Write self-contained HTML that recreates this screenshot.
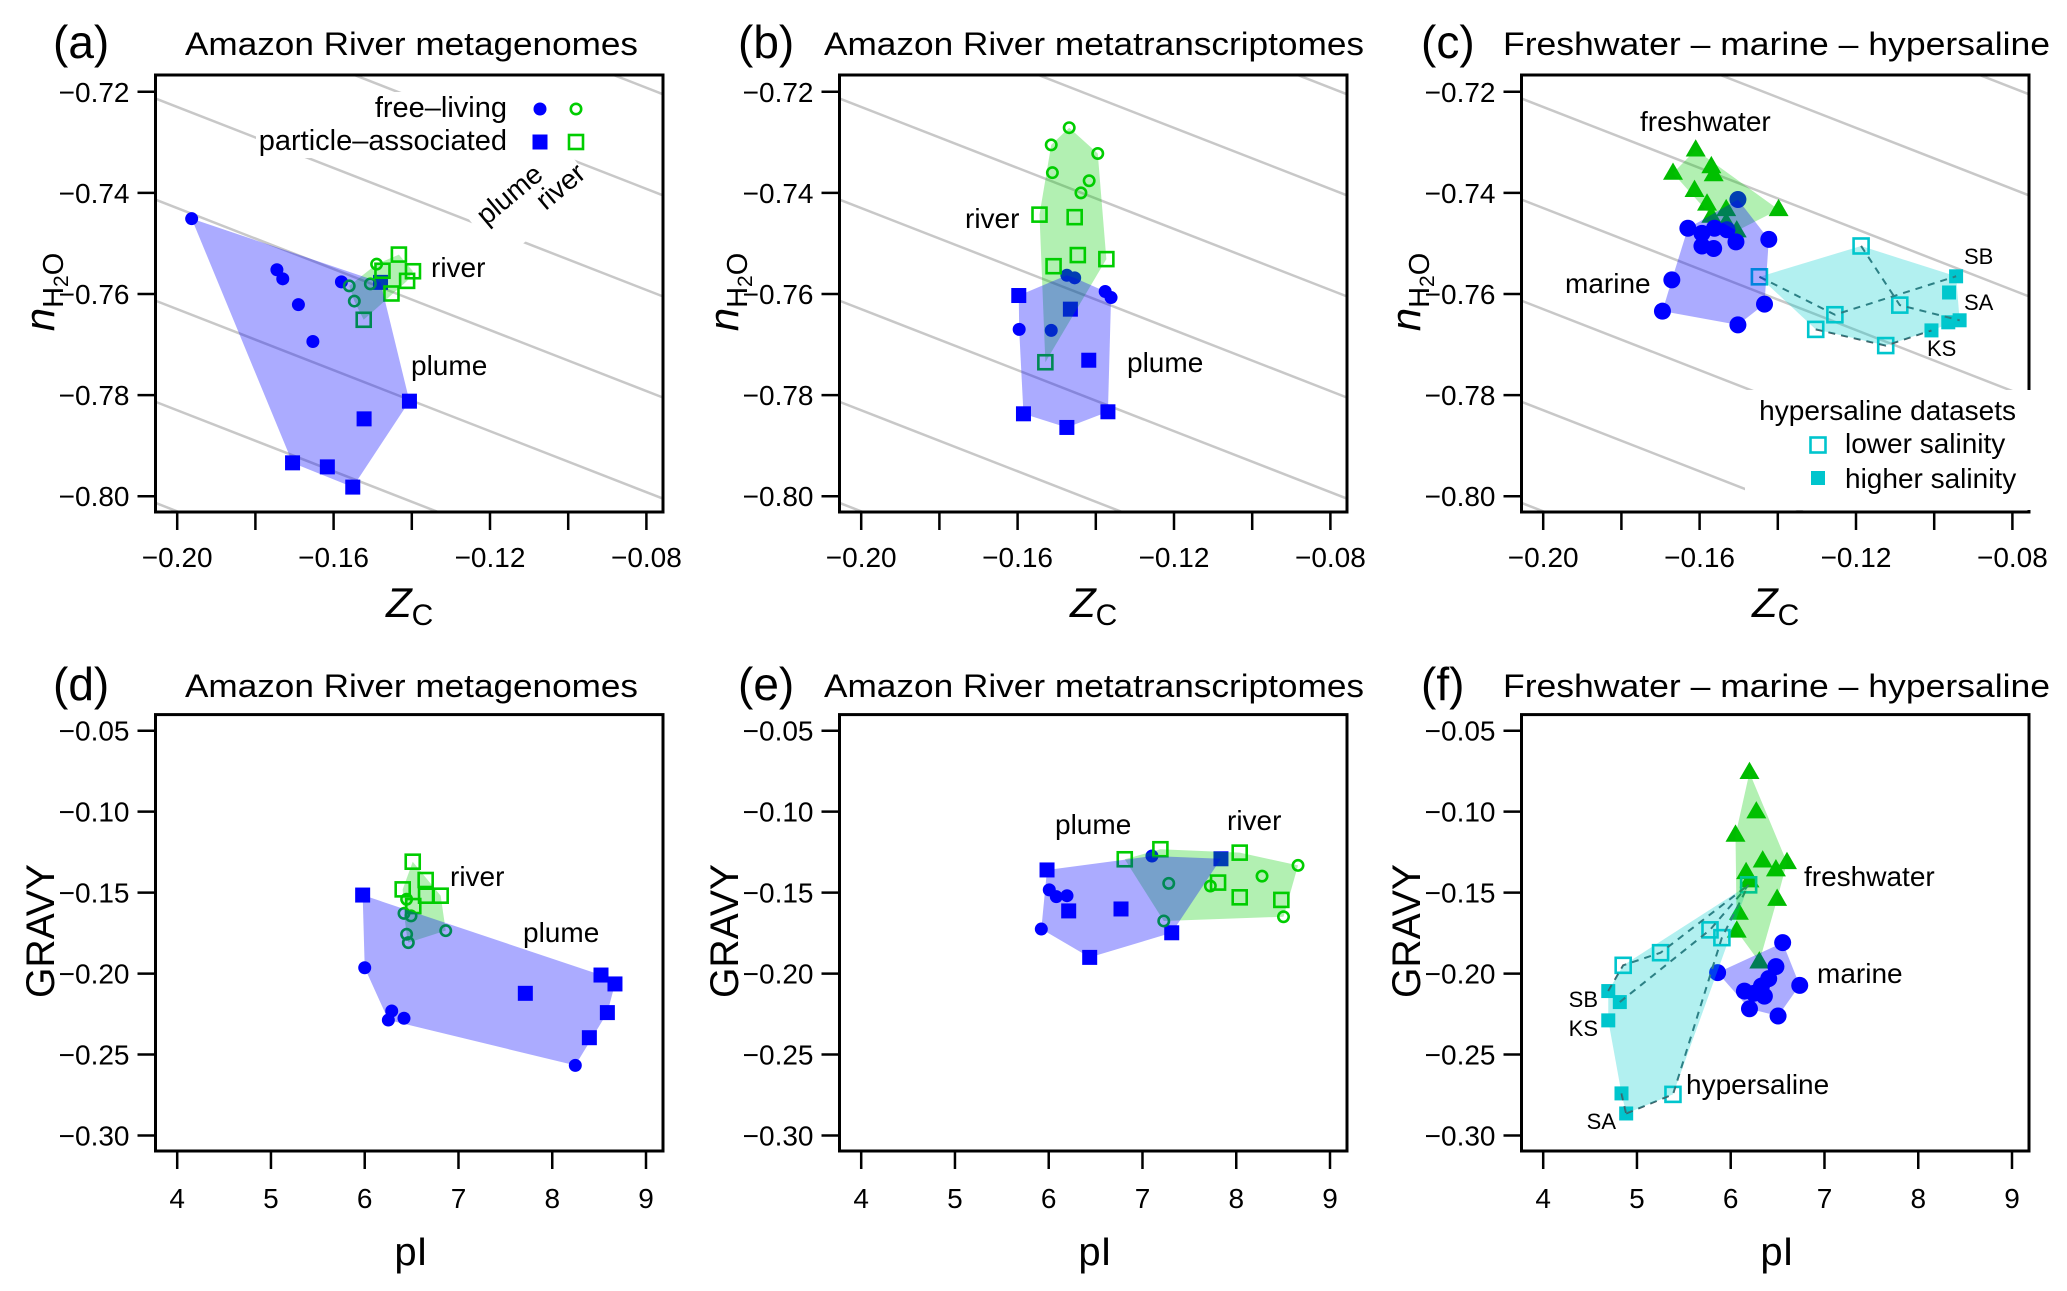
<!DOCTYPE html>
<html><head><meta charset="utf-8"><title>nH2O / GRAVY panels</title>
<style>
html,body{margin:0;padding:0;background:#fff;}
svg{display:block;font-family:"Liberation Sans",Arial,sans-serif;}
</style></head>
<body>
<svg id="fig" xmlns="http://www.w3.org/2000/svg" width="2067" height="1291" viewBox="0 0 2067 1291"></svg>
<script>
// ---------- Panel (a): Amazon River metagenomes, Zc vs nH2O ----------
const aPlumeFLx = [-0.1963,-0.1745,-0.1730,-0.1690,-0.1653,-0.1580];
const aPlumeFLy = [-0.7451,-0.7552,-0.7570,-0.7621,-0.7694,-0.7576];
const aPlumePAx = [-0.1480,-0.1406,-0.1522,-0.1705,-0.1616,-0.1551];
const aPlumePAy = [-0.7577,-0.7812,-0.7847,-0.7934,-0.7942,-0.7982];
const aRiverFLx = [-0.1560,-0.1547,-0.1490,-0.1506];
const aRiverFLy = [-0.7584,-0.7614,-0.7541,-0.7580];
const aRiverPAx = [-0.1433,-0.1475,-0.1397,-0.1412,-0.1452,-0.1523];
const aRiverPAy = [-0.7522,-0.7554,-0.7555,-0.7574,-0.7599,-0.7651];
// ---------- Panel (b): metatranscriptomes ----------
const bPlumeFLx = [-0.1474,-0.1454,-0.1376,-0.1361,-0.1596,-0.1514];
const bPlumeFLy = [-0.7563,-0.7568,-0.7595,-0.7607,-0.7670,-0.7672];
const bPlumePAx = [-0.1597,-0.1465,-0.1418,-0.1585,-0.1369,-0.1474];
const bPlumePAy = [-0.7603,-0.7630,-0.7731,-0.7837,-0.7833,-0.7864];
const bRiverFLx = [-0.1468,-0.1514,-0.1395,-0.1511,-0.1417,-0.1438];
const bRiverFLy = [-0.7271,-0.7305,-0.7322,-0.7360,-0.7376,-0.7400];
const bRiverPAx = [-0.1544,-0.1454,-0.1446,-0.1373,-0.1508,-0.1529];
const bRiverPAy = [-0.7443,-0.7448,-0.7523,-0.7531,-0.7545,-0.7735];
// ---------- Panel (c): freshwater / marine / hypersaline ----------
const cFreshX = [-0.1610,-0.1668,-0.1570,-0.1564,-0.1613,-0.1581,-0.1532,-0.1398,-0.1570,-0.1532,-0.1505];
const cFreshY = [-0.7315,-0.7361,-0.7348,-0.7364,-0.7395,-0.7422,-0.7433,-0.7433,-0.7446,-0.7459,-0.7475];
const cMarineX = [-0.1502,-0.1630,-0.1594,-0.1562,-0.1530,-0.1423,-0.1507,-0.1594,-0.1564,-0.1671,-0.1695,-0.1434,-0.1502];
const cMarineY = [-0.7413,-0.7470,-0.7480,-0.7470,-0.7473,-0.7492,-0.7497,-0.7505,-0.7510,-0.7572,-0.7634,-0.7620,-0.7661];
const cLowX = [-0.1447,-0.1187,-0.1088,-0.1254,-0.1303,-0.1124];
const cLowY = [-0.7566,-0.7505,-0.7622,-0.7641,-0.7670,-0.7702];
const cHighX = [-0.0944,-0.0962,-0.0964,-0.0935,-0.1007];
const cHighY = [-0.7565,-0.7597,-0.7656,-0.7652,-0.7672];
const cPaths = [["L0","L3","H0"],["L1","L2","H3"],["L4","L5","H4"]];
// ---------- Panel (d): metagenomes, pI vs GRAVY ----------
const dPlumeFLx = [6.000,6.288,6.252,6.419,8.246];
const dPlumeFLy = [-0.1964,-0.2231,-0.2287,-0.2276,-0.2567];
const dPlumePAx = [5.978,8.520,8.669,7.713,8.588,8.396];
const dPlumePAy = [-0.1515,-0.2009,-0.2064,-0.2122,-0.2241,-0.2396];
const dRiverFLx = [6.447,6.419,6.494,6.447,6.465,6.864];
const dRiverFLy = [-0.1541,-0.1628,-0.1644,-0.1757,-0.1809,-0.1735];
const dRiverPAx = [6.512,6.650,6.405,6.654,6.810,6.518];
const dRiverPAy = [-0.1309,-0.1422,-0.1480,-0.1519,-0.1519,-0.1583];
// ---------- Panel (e): metatranscriptomes, pI vs GRAVY ----------
const ePlumeFLx = [6.006,6.081,6.195,5.921,7.101];
const ePlumeFLy = [-0.1483,-0.1525,-0.1519,-0.1725,-0.1274];
const ePlumePAx = [5.982,6.213,6.771,6.437,7.312,7.837];
const ePlumePAy = [-0.1360,-0.1613,-0.1601,-0.1900,-0.1748,-0.1291];
const eRiverFLx = [7.280,7.724,8.275,8.659,7.227,8.504];
const eRiverFLy = [-0.1443,-0.1459,-0.1398,-0.1332,-0.1675,-0.1649];
const eRiverPAx = [6.811,7.191,8.037,7.806,8.037,8.481];
const eRiverPAy = [-0.1294,-0.1232,-0.1253,-0.1438,-0.1529,-0.1545];
// ---------- Panel (f): freshwater / marine / hypersaline ----------
const fFreshX = [6.200,6.273,6.051,6.341,6.600,6.482,6.164,6.200,6.495,6.087,6.064,6.305];
const fFreshY = [-0.0758,-0.1001,-0.1145,-0.1304,-0.1314,-0.1359,-0.1376,-0.1427,-0.1541,-0.1627,-0.1737,-0.1928];
const fMarineX = [6.554,6.482,5.860,6.405,6.736,6.146,6.328,6.246,6.359,6.200,6.505];
const fMarineY = [-0.1809,-0.1957,-0.1994,-0.2031,-0.2073,-0.2108,-0.2077,-0.2122,-0.2139,-0.2217,-0.2262];
const fLowX = [6.191,5.779,5.906,5.252,4.853,5.384];
const fLowY = [-0.1452,-0.1730,-0.1778,-0.1871,-0.1949,-0.2746];
const fHighX = [4.694,4.817,4.694,4.835,4.885];
const fHighY = [-0.2108,-0.2176,-0.2289,-0.2740,-0.2864];
const fPaths = [["H0","L4","L3","L0"],["H1","L1","L0"],["H4","L5","L2","L0"],["H3","H4"]];
// ---------- axis ticks ----------
const topXTicks = [-0.20,-0.18,-0.16,-0.14,-0.12,-0.10,-0.08];
const topXLabels = ["\u22120.20","","\u22120.16","","\u22120.12","","\u22120.08"];
const topYTicks = [-0.72,-0.74,-0.76,-0.78,-0.80];
const topYLabels = ["\u22120.72","\u22120.74","\u22120.76","\u22120.78","\u22120.80"];
const botXTicks = [4,5,6,7,8,9];
const botXLabels = ["4","5","6","7","8","9"];
const botYTicks = [-0.05,-0.10,-0.15,-0.20,-0.25,-0.30];
const botYLabels = ["\u22120.05","\u22120.10","\u22120.15","\u22120.20","\u22120.25","\u22120.30"];
const refIntercepts = [-0.683,-0.703,-0.723,-0.743,-0.763,-0.783,-0.803,-0.823,-0.843];

const NS = "http://www.w3.org/2000/svg";
const svg = document.getElementById("fig");
function mk(tag, attrs, parent){
  const e = document.createElementNS(NS, tag);
  for (const k in attrs) e.setAttribute(k, attrs[k]);
  (parent||svg).appendChild(e);
  return e;
}
const BLUE="#0000ff", GREEN="#00cd00", CYAN="#00c5cd";
const OFFS=[0,684,1366];
const TOP={x0:155.5,x1:663,y0:75,y1:512};
const BOT={x0:155.5,x1:663,y0:714.6,y1:1151};
function topX(off){return z=>177.2+off+(z+0.2)*3910;}
function topY(n){return 91.8-(n+0.72)*5055;}
function botX(off){return p=>177.2+off+(p-4)*93.76;}
function botY(g){return 730.7-(g+0.05)*1619.2;}

function frame(off, box, id){
  const r = mk("rect",{x:box.x0+off,y:box.y0,width:box.x1-box.x0,height:box.y1-box.y0,fill:"none",stroke:"#000","stroke-width":3});
  
  
  const cp = mk("clipPath",{id:"clip-"+id});
  mk("rect",{x:box.x0+off,y:box.y0,width:box.x1-box.x0,height:box.y1-box.y0},cp);
}
function axes(off, box, X, Y, xt, xl, yt, yl, id, labY){
  const g = mk("g",{});
  
  
  xt.forEach((v,i)=>{
    const x=X(v);
    const t = mk("line",{x1:x,x2:x,y1:box.y1+1,y2:box.y1+18,stroke:"#000","stroke-width":2.5},g);
    
    
    if(xl[i]){
      const l = mk("text",{x:x,y:labY,"text-anchor":"middle","font-size":28},g);
      l.textContent=xl[i];
      
      
    }
  });
  yt.forEach((v,i)=>{
    const y=Y(v);
    const t = mk("line",{x1:box.x0+off-18,x2:box.x0+off-1,y1:y,y2:y,stroke:"#000","stroke-width":2.5},g);
    
    
    const l = mk("text",{x:box.x0+off-26,y:y+10,"text-anchor":"end","font-size":28},g);
    l.textContent=yl[i];
    
    
  });
}
function refLines(off, id){
  const X=topX(off);
  const g = mk("g",{"clip-path":"url(#clip-"+id+")"});
  
  
  refIntercepts.forEach(c=>{
    const za=-0.21, zb=-0.07;
    const ln = mk("line",{x1:X(za),y1:topY(c-0.3017*(za+0.2)),x2:X(zb),y2:topY(c-0.3017*(zb+0.2)),stroke:"#c8c8c8","stroke-width":2.5},g);
    
    
  });
}
function marker(g, shape, x, y, color, filled, big){
  let e;
  if(shape==="circle"){
    const r = filled ? (big?8.5:6.5) : 5.2;
    e = mk("circle",{cx:x,cy:y,r:r,fill:filled?color:"none",stroke:color,"stroke-width":filled?0:2.6},g);
  } else if(shape==="square"){
    const s = filled ? (big?14:15) : (big?15:14);
    e = mk("rect",{x:x-s/2,y:y-s/2,width:s,height:s,fill:filled?color:"none",stroke:color,"stroke-width":filled?0:2.6},g);
  } else {
    const s = 20, h = s*0.866;
    e = mk("polygon",{points:`${x},${y-h*0.62} ${x-s/2},${y+h*0.38} ${x+s/2},${y+h*0.38}`,fill:color},g);
  }
  return e;
}
function series(xs, ys, X, Y, shape, color, filled, big, name){
  const g = mk("g",{});
  
  
  const pts=[];
  xs.forEach((v,i)=>{
    const px=X(v), py=Y(ys[i]);
    const m = marker(g, shape, px, py, color, filled, big);
    
    
    pts.push([px,py]);
  });
  return pts;
}
function hull(points){
  const p = points.slice().sort((a,b)=>a[0]-b[0]||a[1]-b[1]);
  const cross=(o,a,b)=>(a[0]-o[0])*(b[1]-o[1])-(a[1]-o[1])*(b[0]-o[0]);
  const lo=[],up=[];
  for(const q of p){while(lo.length>=2&&cross(lo[lo.length-2],lo[lo.length-1],q)<=0)lo.pop();lo.push(q);}
  for(let i=p.length-1;i>=0;i--){const q=p[i];while(up.length>=2&&cross(up[up.length-2],up[up.length-1],q)<=0)up.pop();up.push(q);}
  up.pop();lo.pop();
  return lo.concat(up);
}
function drawHull(pts, fill, name){
  const h = hull(pts);
  const e = mk("polygon",{points:h.map(q=>q.join(",")).join(" "),fill:fill,stroke:"none"});
  
  
}
function text(x,y,s,size,name,anchor,extra){
  const t = mk("text",Object.assign({x:x,y:y,"font-size":size,"text-anchor":anchor||"start"},extra||{}));
  t.textContent=s;
  
  
  return t;
}
function whiteRect(x,y,w,h,name,tr){
  const r = mk("rect",Object.assign({x:x,y:y,width:w,height:h,fill:"#fff"},tr?{transform:tr}:{}));
  
  
}
function dashPaths(paths, lowX, lowY, highX, highY, X, Y, name){
  const g = mk("g",{});
  
  
  paths.forEach(p=>{
    const pts = p.map(k=>{
      const i=+k.slice(1);
      return k[0]==="L"?[X(lowX[i]),Y(lowY[i])]:[X(highX[i]),Y(highY[i])];
    });
    const pl = mk("polyline",{points:pts.map(q=>q.join(",")).join(" "),fill:"none",stroke:"#3f5f66","stroke-width":2,"stroke-dasharray":"7,6"},g);
    
    
  });
}
function titles(off, yBase, letter, title, tlen){
  text([53,738,1421][OFFS.indexOf(off)], yBase+3, letter, 46, 'panel-letter');
  text([185,824,1503][OFFS.indexOf(off)], yBase, title, 32, 'panel-title', 'start', {textLength:tlen,lengthAdjust:"spacingAndGlyphs"});
}
function topAxisTitles(off){
  const t = mk("text",{x:386+off,y:617,"font-size":42});
  
  
  const t1 = mk("tspan",{"font-style":"italic"},t); t1.textContent="Z";
  const t2 = mk("tspan",{dy:8,"font-size":30},t); t2.textContent="C";
  const y = mk("text",{transform:`translate(${54+off},292) rotate(-90)`,"text-anchor":"middle","font-size":42});
  
  
  const s1 = mk("tspan",{"font-style":"italic"},y); s1.textContent="n";
  const s2 = mk("tspan",{dy:9,"font-size":29},y); s2.textContent="H";
  const s3 = mk("tspan",{dy:5,"font-size":21},y); s3.textContent="2";
  const s4 = mk("tspan",{dy:-5,"font-size":29},y); s4.textContent="O";
}
function botAxisTitles(off){
  text(411+off,1265,"pI",40,'x-axis-title','middle');
  const y = mk("text",{transform:`translate(${54+off},931) rotate(-90)`,"text-anchor":"middle","font-size":40,textLength:134,lengthAdjust:"spacingAndGlyphs"});
  y.textContent="GRAVY";
  
  
}
const GFILL="rgba(0,205,0,0.30)", BFILL="rgba(0,0,255,0.33)", CFILL="rgba(0,205,205,0.30)";

// ===== Top row =====
["a","b","c"].forEach((id,k)=>{
  const off=OFFS[k];
  refLines(off,id);
  frame(off,TOP,id);
  axes(off,TOP,topX(off),topY,topXTicks,topXLabels,topYTicks,topYLabels,id,567);
  topAxisTitles(off);
});
whiteRect(256,92,345,66,'legend-background');
whiteRect(470,170,120,60,'line-label-background','rotate(-38 530 200)');
titles(0,55,"(a)","Amazon River metagenomes",453);
titles(684,55,"(b)","Amazon River metatranscriptomes",540);
titles(1366,55,"(c)","Freshwater \u2013 marine \u2013 hypersaline",547);

(function(){
  const X=topX(0);
  const p1=series(aPlumeFLx,aPlumeFLy,X,topY,"circle",BLUE,true,false,'a-plume-free-living');
  const p2=series(aPlumePAx,aPlumePAy,X,topY,"square",BLUE,true,false,'a-plume-particle-associated');
  const r1=series(aRiverFLx,aRiverFLy,X,topY,"circle",GREEN,false,false,'a-river-free-living');
  const r2=series(aRiverPAx,aRiverPAy,X,topY,"square",GREEN,false,false,'a-river-particle-associated');
  drawHull(r1.concat(r2),GFILL,'a-river-hull');
  drawHull(p1.concat(p2),BFILL,'a-plume-hull');
  text(507,117,"free\u2013living",29,'legend-free-living','end');
  text(507,150,"particle\u2013associated",29,'legend-particle-associated','end');
  const lg = mk("g",{});  
  marker(lg,"circle",540,109,BLUE,true,false);
  marker(lg,"circle",576,109,GREEN,false,false);
  marker(lg,"square",540,142,BLUE,true,false);
  marker(lg,"square",576,142,GREEN,false,false);
  text(509,204,"plume",28,'line-label-plume','middle',{transform:"rotate(-40 509 194)"});
  text(560,196,"river",28,'line-label-river','middle',{transform:"rotate(-40 560 186)"});
  text(431,277,"river",28,'label-river');
  text(411,375,"plume",28,'label-plume');
})();
(function(){
  const X=topX(684);
  const p1=series(bPlumeFLx,bPlumeFLy,X,topY,"circle",BLUE,true,false,'b-plume-free-living');
  const p2=series(bPlumePAx,bPlumePAy,X,topY,"square",BLUE,true,false,'b-plume-particle-associated');
  const r1=series(bRiverFLx,bRiverFLy,X,topY,"circle",GREEN,false,false,'b-river-free-living');
  const r2=series(bRiverPAx,bRiverPAy,X,topY,"square",GREEN,false,false,'b-river-particle-associated');
  drawHull(r1.concat(r2),GFILL,'b-river-hull');
  drawHull(p1.concat(p2),BFILL,'b-plume-hull');
  text(965,228,"river",28,'label-river');
  text(1127,372,"plume",28,'label-plume');
})();
(function(){
  const X=topX(1366);
  whiteRect(1745,390,290,120,'legend-background');
  const f=series(cFreshX,cFreshY,X,topY,"triangle","#00bb00",true,true,'c-freshwater');
  const m=series(cMarineX,cMarineY,X,topY,"circle",BLUE,true,true,'c-marine');
  const l=series(cLowX,cLowY,X,topY,"square",CYAN,false,true,'c-hypersaline-lower');
  const h=series(cHighX,cHighY,X,topY,"square",CYAN,true,true,'c-hypersaline-higher');
  dashPaths(cPaths,cLowX,cLowY,cHighX,cHighY,X,topY,'c-dataset-connectors');
  drawHull(l.concat(h),CFILL,'c-hypersaline-hull');
  drawHull(f,GFILL,'c-freshwater-hull');
  drawHull(m,BFILL,'c-marine-hull');
  text(1640,131,"freshwater",28,'label-freshwater');
  text(1565,293,"marine",28,'label-marine');
  text(1964,264,"SB",22,'label-sb');
  text(1964,310,"SA",22,'label-sa');
  text(1927,356,"KS",22,'label-ks');
  text(2016,420,"hypersaline datasets",28,'legend-title','end');
  text(1845,453,"lower salinity",28,'legend-lower-salinity');
  text(1845,488,"higher salinity",28,'legend-higher-salinity');
  const lg = mk("g",{});  
  marker(lg,"square",1818,445,CYAN,false,true);
  marker(lg,"square",1818,478,CYAN,true,true);
})();

// ===== Bottom row =====
["d","e","f"].forEach((id,k)=>{
  const off=OFFS[k];
  frame(off,BOT,id);
  axes(off,BOT,botX(off),botY,botXTicks,botXLabels,botYTicks,botYLabels,id,1208);
  botAxisTitles(off);
});
titles(0,697,"(d)","Amazon River metagenomes",453);
titles(684,697,"(e)","Amazon River metatranscriptomes",540);
titles(1366,697,"(f)","Freshwater \u2013 marine \u2013 hypersaline",547);
(function(){
  const X=botX(0);
  const p1=series(dPlumeFLx,dPlumeFLy,X,botY,"circle",BLUE,true,false,'d-plume-free-living');
  const p2=series(dPlumePAx,dPlumePAy,X,botY,"square",BLUE,true,false,'d-plume-particle-associated');
  const r1=series(dRiverFLx,dRiverFLy,X,botY,"circle",GREEN,false,false,'d-river-free-living');
  const r2=series(dRiverPAx,dRiverPAy,X,botY,"square",GREEN,false,false,'d-river-particle-associated');
  drawHull(r1.concat(r2),GFILL,'d-river-hull');
  drawHull(p1.concat(p2),BFILL,'d-plume-hull');
  text(450,886,"river",28,'label-river');
  text(523,942,"plume",28,'label-plume');
})();
(function(){
  const X=botX(684);
  const p1=series(ePlumeFLx,ePlumeFLy,X,botY,"circle",BLUE,true,false,'e-plume-free-living');
  const p2=series(ePlumePAx,ePlumePAy,X,botY,"square",BLUE,true,false,'e-plume-particle-associated');
  const r1=series(eRiverFLx,eRiverFLy,X,botY,"circle",GREEN,false,false,'e-river-free-living');
  const r2=series(eRiverPAx,eRiverPAy,X,botY,"square",GREEN,false,false,'e-river-particle-associated');
  drawHull(r1.concat(r2),GFILL,'e-river-hull');
  drawHull(p1.concat(p2),BFILL,'e-plume-hull');
  text(1055,834,"plume",28,'label-plume');
  text(1227,830,"river",28,'label-river');
})();
(function(){
  const X=botX(1366);
  const f=series(fFreshX,fFreshY,X,botY,"triangle","#00bb00",true,true,'f-freshwater');
  const m=series(fMarineX,fMarineY,X,botY,"circle",BLUE,true,true,'f-marine');
  const l=series(fLowX,fLowY,X,botY,"square",CYAN,false,true,'f-hypersaline-lower');
  const h=series(fHighX,fHighY,X,botY,"square",CYAN,true,true,'f-hypersaline-higher');
  dashPaths(fPaths,fLowX,fLowY,fHighX,fHighY,X,botY,'f-dataset-connectors');
  drawHull(l.concat(h),CFILL,'f-hypersaline-hull');
  drawHull(f,GFILL,'f-freshwater-hull');
  drawHull(m,BFILL,'f-marine-hull');
  text(1804,886,"freshwater",28,'label-freshwater');
  text(1817,983,"marine",28,'label-marine');
  text(1686,1094,"hypersaline",28,'label-hypersaline');
  text(1598,1007,"SB",22,'label-sb','end');
  text(1598,1036,"KS",22,'label-ks','end');
  text(1616,1129,"SA",22,'label-sa','end');
})();
</script>
</body></html>
